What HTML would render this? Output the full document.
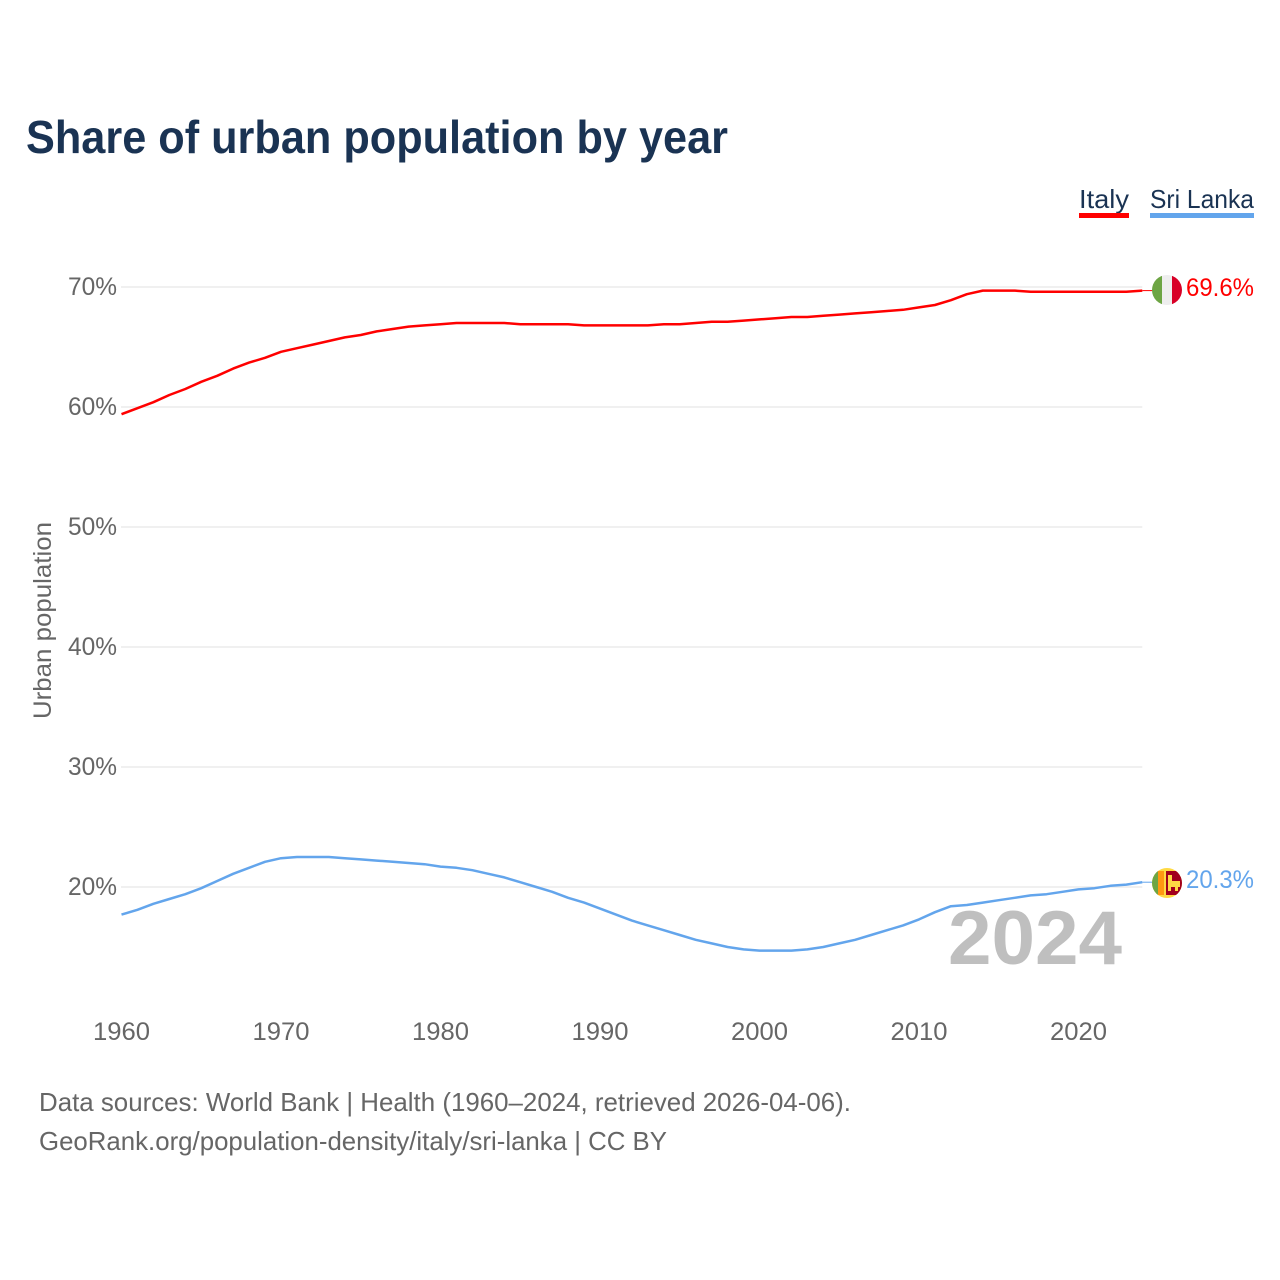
<!DOCTYPE html>
<html lang="en">
<head>
<meta charset="utf-8">
<title>Share of urban population by year</title>
<style>
html,body{margin:0;padding:0;background:#fff;width:1280px;height:1280px;overflow:hidden}
svg{display:block;font-family:"Liberation Sans",sans-serif}
</style>
</head>
<body>
<svg id="chart" width="1280" height="1280" viewBox="0 0 1280 1280" xmlns="http://www.w3.org/2000/svg">
  <rect width="1280" height="1280" fill="#ffffff"/>
  <text x="26" y="153" font-size="46" font-weight="700" fill="#1a3353" textLength="702" lengthAdjust="spacingAndGlyphs">Share of urban population by year</text>

  <g id="grid"></g>
  <g id="yticks"></g>
  <g id="xticks"></g>

  <text transform="translate(51,719) rotate(-90)" font-size="25" fill="#666666" textLength="197" lengthAdjust="spacingAndGlyphs">Urban population</text>

  <text x="948" y="964" font-size="76" font-weight="700" fill="#bfbfbf" textLength="174" lengthAdjust="spacingAndGlyphs">2024</text>

  <g id="series"></g>

  <g>
    <text x="1079" y="208" font-size="26" fill="#1a3353" textLength="50" lengthAdjust="spacingAndGlyphs">Italy</text>
    <rect x="1079" y="213" width="50" height="5" fill="#ff0000"/>
  </g>
  <g>
    <text x="1150" y="208" font-size="26" fill="#1a3353" textLength="104" lengthAdjust="spacingAndGlyphs">Sri Lanka</text>
    <rect x="1150" y="213" width="104" height="5" fill="#63a5ec"/>
  </g>

  <defs>
    <clipPath id="flag-clip-it"><circle cx="1167" cy="290" r="15"/></clipPath>
    <clipPath id="flag-clip-lk"><circle cx="1167" cy="883" r="15"/></clipPath>
  </defs>
  <g clip-path="url(#flag-clip-it)">
    <rect x="1152" y="275" width="10" height="30" fill="#6da544"/>
    <rect x="1162" y="275" width="10" height="30" fill="#eeeeee"/>
    <rect x="1172" y="275" width="10" height="30" fill="#d80027"/>
  </g>
  <g clip-path="url(#flag-clip-lk)">
    <rect x="1152" y="868" width="30" height="30" fill="#ffda44"/>
    <rect x="1152" y="871" width="6" height="24" fill="#6da544"/>
    <rect x="1158" y="871" width="6" height="24" fill="#ff9811"/>
    <rect x="1166" y="871" width="16" height="24" fill="#a2001d"/>
    <path d="M1168 875h4v6h8v6h-2v4h-3v-4h-4v4h-3z" fill="#ffda44"/>
  </g>

  <text x="1186" y="296" font-size="25" fill="#ff0000" textLength="68" lengthAdjust="spacingAndGlyphs">69.6%</text>
  <text x="1186" y="888" font-size="25" fill="#63a5ec" textLength="68" lengthAdjust="spacingAndGlyphs">20.3%</text>

  <text x="39" y="1111" font-size="26" fill="#666666" textLength="812" lengthAdjust="spacingAndGlyphs">Data sources: World Bank | Health (1960–2024, retrieved 2026-04-06).</text>
  <text x="39" y="1150" font-size="26" fill="#666666" textLength="628" lengthAdjust="spacingAndGlyphs">GeoRank.org/population-density/italy/sri-lanka | CC BY</text>
</svg>
<script>
const startYear = 1960;
const yTickValues = [70, 60, 50, 40, 30, 20];
const xTickYears = [1960, 1970, 1980, 1990, 2000, 2010, 2020];
const italyValues = [
  59.4, 59.9, 60.4, 61.0, 61.5, 62.1, 62.6, 63.2, 63.7, 64.1,
  64.6, 64.9, 65.2, 65.5, 65.8, 66.0, 66.3, 66.5, 66.7, 66.8,
  66.9, 67.0, 67.0, 67.0, 67.0, 66.9, 66.9, 66.9, 66.9, 66.8,
  66.8, 66.8, 66.8, 66.8, 66.9, 66.9, 67.0, 67.1, 67.1, 67.2,
  67.3, 67.4, 67.5, 67.5, 67.6, 67.7, 67.8, 67.9, 68.0, 68.1,
  68.3, 68.5, 68.9, 69.4, 69.7, 69.7, 69.7, 69.6, 69.6, 69.6,
  69.6, 69.6, 69.6, 69.6, 69.7
];
const sriLankaValues = [
  17.7, 18.1, 18.6, 19.0, 19.4, 19.9, 20.5, 21.1, 21.6, 22.1,
  22.4, 22.5, 22.5, 22.5, 22.4, 22.3, 22.2, 22.1, 22.0, 21.9,
  21.7, 21.6, 21.4, 21.1, 20.8, 20.4, 20.0, 19.6, 19.1, 18.7,
  18.2, 17.7, 17.2, 16.8, 16.4, 16.0, 15.6, 15.3, 15.0, 14.8,
  14.7, 14.7, 14.7, 14.8, 15.0, 15.3, 15.6, 16.0, 16.4, 16.8,
  17.3, 17.9, 18.4, 18.5, 18.7, 18.9, 19.1, 19.3, 19.4, 19.6,
  19.8, 19.9, 20.1, 20.2, 20.4
];

const SVG_NS = 'http://www.w3.org/2000/svg';
const xScale = year => 121.5 + (year - 1960) * 15.95;
const yScale = value => 287 + (70 - value) * 12;
const plotRight = xScale(2024);

const gridGroup = document.getElementById('grid');
const yGroup = document.getElementById('yticks');
yTickValues.forEach(v => {
  const line = document.createElementNS(SVG_NS, 'line');
  
  
  line.setAttribute('x1', 121);
  line.setAttribute('x2', plotRight);
  line.setAttribute('y1', yScale(v));
  line.setAttribute('y2', yScale(v));
  line.setAttribute('stroke', '#ececec');
  line.setAttribute('stroke-width', '1.5');
  gridGroup.appendChild(line);

  const label = document.createElementNS(SVG_NS, 'text');
  
  
  label.setAttribute('x', 117);
  label.setAttribute('y', yScale(v) + 8);
  label.setAttribute('text-anchor', 'end');
  label.setAttribute('font-size', '25');
  label.setAttribute('fill', '#666666');
  label.setAttribute('textLength', '49');
  label.setAttribute('lengthAdjust', 'spacingAndGlyphs');
  label.textContent = v + '%';
  yGroup.appendChild(label);
});

const xGroup = document.getElementById('xticks');
xTickYears.forEach(y => {
  const label = document.createElementNS(SVG_NS, 'text');
  
  
  label.setAttribute('x', xScale(y));
  label.setAttribute('y', 1040);
  label.setAttribute('text-anchor', 'middle');
  label.setAttribute('font-size', '25');
  label.setAttribute('fill', '#666666');
  label.setAttribute('textLength', '57');
  label.setAttribute('lengthAdjust', 'spacingAndGlyphs');
  label.textContent = y;
  xGroup.appendChild(label);
});

const seriesGroup = document.getElementById('series');
function drawSeries(values, color, lineName, leaderName) {
  const pts = values.map((v, i) => xScale(startYear + i).toFixed(2) + ',' + yScale(v).toFixed(2)).join(' ');
  const poly = document.createElementNS(SVG_NS, 'polyline');
  
  
  poly.setAttribute('points', pts);
  poly.setAttribute('fill', 'none');
  poly.setAttribute('stroke', color);
  poly.setAttribute('stroke-width', '2.5');
  poly.setAttribute('stroke-linejoin', 'round');
  seriesGroup.appendChild(poly);

  const last = values[values.length - 1];
  const leader = document.createElementNS(SVG_NS, 'line');
  
  
  leader.setAttribute('x1', plotRight);
  leader.setAttribute('x2', 1153);
  leader.setAttribute('y1', yScale(last));
  leader.setAttribute('y2', yScale(last));
  leader.setAttribute('stroke', color);
  leader.setAttribute('stroke-width', '1');
  seriesGroup.appendChild(leader);
}
drawSeries(italyValues, '#ff0000', 'italy-line', 'italy-leader-line');
drawSeries(sriLankaValues, '#63a5ec', 'sri-lanka-line', 'sri-lanka-leader-line');
</script>
</body>
</html>
